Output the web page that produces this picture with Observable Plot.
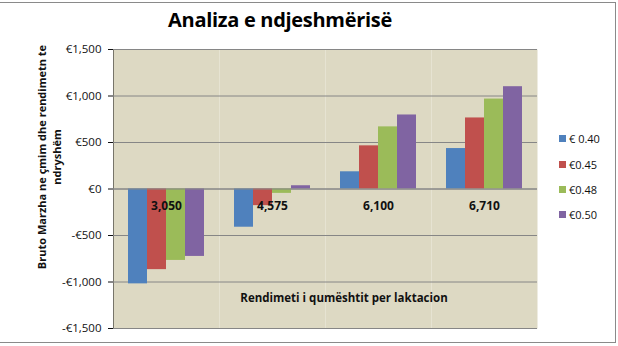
<!DOCTYPE html>
<html>
<head>
<meta charset="utf-8">
<script src="https://cdn.jsdelivr.net/npm/d3@7"></script>
<script src="https://cdn.jsdelivr.net/npm/@observablehq/plot@0.6"></script>
<style>
  html, body { margin: 0; padding: 0; background: #fff; }
  #wrap { position: relative; width: 618px; height: 346px; overflow: hidden; font-family: "Open Sans", "DejaVu Sans", sans-serif; }
  #frame { position: absolute; left: -1px; top: 2px; width: 617px; height: 341px; border: 1px solid #8a8a8a; box-sizing: border-box; }
  #title { position: absolute; left: 0; width: 560px; top: 6px; text-align: center; font-weight: bold; font-size: 20px; color: #000; letter-spacing: -0.3px; }
  #ytitle { position: absolute; left: 49px; top: 157px; width: 240px; height: 30px; margin-left: -120px; margin-top: -15px; transform: rotate(-90deg); white-space: nowrap; text-align: center; font-weight: bold; font-size: 11px; color: #111; }
  #ytitle div { height: 15px; line-height: 15px; }
  #xtitle { position: absolute; left: 344px; top: 290px; transform: translateX(-50%); white-space: nowrap; font-weight: bold; font-size: 11.5px; color: #111; }
  #legend { position: absolute; left: 559px; top: 126px; font-size: 11px; color: #111; }
  #legend .row { height: 25.4px; display: flex; align-items: center; }
  #legend .sw { width: 7px; height: 7px; margin-right: 3px; }
  #chart { position: absolute; left: 0; top: 0; }
</style>
</head>
<body>
<div id="wrap">
  <div id="frame"></div>
  <div id="chart"></div>
  <div id="title"></div>
  <div id="ytitle"></div>
  <div id="xtitle"></div>
  <div id="legend"></div>
</div>
<script>
const titleText = "Analiza e ndjeshmërisë";
const yTitleLines = ["Bruto Marzha ne çmim dhe rendimetn te", "ndryshëm"];
const xTitleText = "Rendimeti i qumështit per laktacion";
const categories = ["3,050", "4,575", "6,100", "6,710"];
const series = ["€ 0.40", "€0.45", "€0.48", "€0.50"];
const colors = ["#4f81bd", "#c0504d", "#9bbb59", "#8064a2"];
const v040 = [-1020, -411, 185, 435];
const v045 = [-867, -179, 464, 764];
const v048 = [-768, -47, 668, 967];
const v050 = [-725, 35, 796, 1100];
const yTicks = [-1500, -1000, -500, 0, 500, 1000, 1500];

const seriesValues = [v040, v045, v048, v050];
const rows = [];
categories.forEach((c, i) => {
  series.forEach((s, j) => rows.push({cat: c, s, v: seriesValues[j][i]}));
});

const euro = d => (d < 0 ? "-" : "") + "€" + d3.format(",")(Math.abs(d));

const chart = Plot.plot({
  width: 618,
  height: 346,
  marginLeft: 112,
  marginRight: 80,
  marginTop: 49,
  marginBottom: 18,
  style: {fontFamily: "'Open Sans', 'DejaVu Sans', sans-serif", fontSize: "11.5px", color: "#111", background: "transparent"},
  fx: {domain: categories, padding: 0, axis: null},
  x: {domain: series, paddingInner: 0, paddingOuter: 0.73, axis: null},
  y: {domain: [-1500, 1500], ticks: yTicks, tickFormat: euro, tickSize: 5, tickPadding: 7, label: null, line: true},
  color: {domain: series, range: colors},
  marks: [
    Plot.frame({fill: "#ddd9c3"}),
    Plot.gridY(yTicks, {stroke: "#868686", strokeOpacity: 1}),
    Plot.barY(rows, {fx: "cat", x: "s", y: "v", fill: "s"}),
    Plot.ruleY([0], {stroke: "#868686"}),
    Plot.text(categories, {fx: d => d, y: d => 0, dy: 17, text: d => d, fontWeight: "bold", fontSize: 12, fill: "#111"})
  ]
});
document.getElementById("chart").appendChild(chart);

document.getElementById("title").textContent = titleText;
document.getElementById("ytitle").innerHTML = yTitleLines.map(t => `<div>${t}</div>`).join("");
document.getElementById("xtitle").textContent = xTitleText;
const lg = document.getElementById("legend");
series.forEach((s, i) => {
  const r = document.createElement("div");
  r.className = "row";
  r.innerHTML = `<span class="sw" style="background:${colors[i]}"></span><span>${s}</span>`;
  lg.appendChild(r);
});
</script>
</body>
</html>
